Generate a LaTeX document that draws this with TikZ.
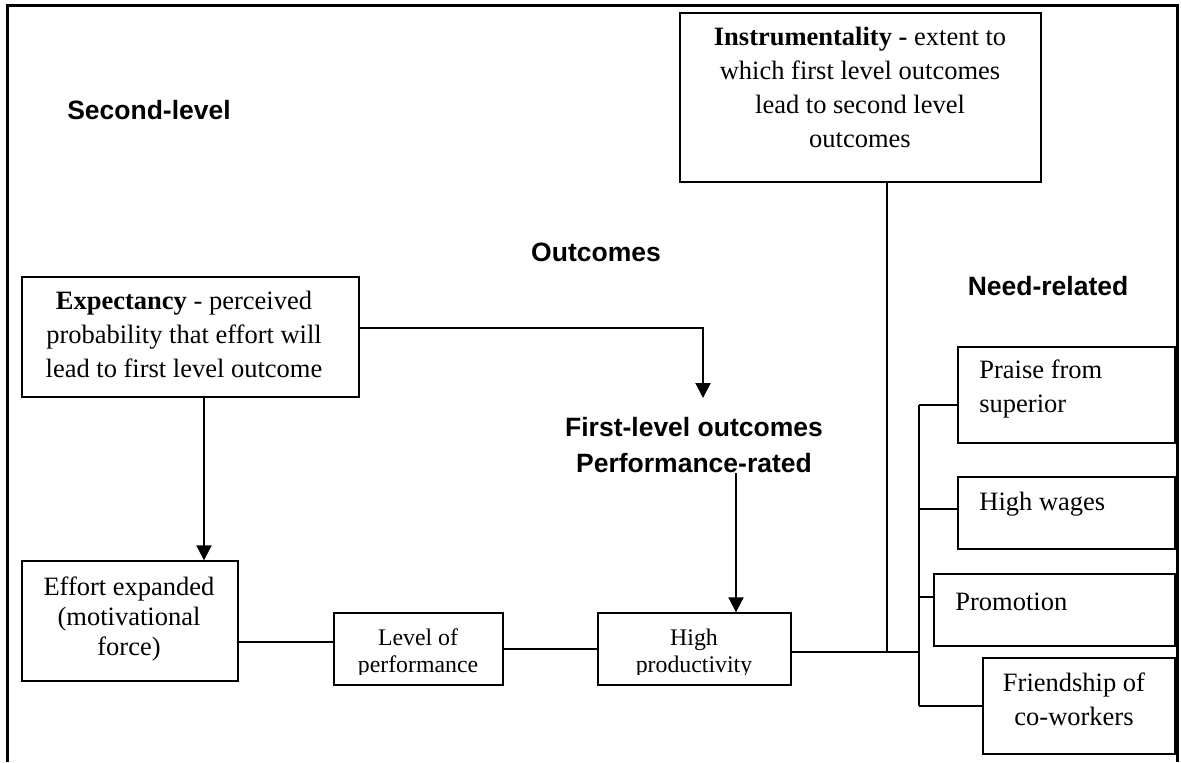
\documentclass[tikz,border=0pt]{standalone}
\usepackage{fontspec}
\setmainfont{Liberation Serif}
\setsansfont{Liberation Sans}
\usetikzlibrary{arrows.meta,fit}

\begin{document}
\begin{tikzpicture}[x=0.5pt,y=-0.5pt,
  box/.style={draw, line width=0.7pt, inner sep=0pt},
  body/.style={font=\fontsize{13.25}{17}\selectfont, align=center, inner sep=0pt},
  tight/.style={font=\fontsize{13.25}{15}\selectfont, align=center, inner sep=0pt},
  small/.style={font=\fontsize{11.9}{13.5}\selectfont, align=center, inner sep=0pt},
  head/.style={font=\fontsize{13.25}{18}\sffamily\bfseries, align=center, inner sep=0pt},
  link/.style={line width=0.8pt},
  arr/.style={line width=1pt, -{Triangle[length=7.5pt,width=7.5pt]}},
  frame/.style={line width=1.5pt}]
\useasboundingbox (0,0) rectangle (1181,762);

% open frame (no bottom edge)
\draw[frame] (7,762) -- (7,5) -- (1177,5) -- (1177,762);

% headings
\node[head] (second) at (149,110) {Second-level};
\node[head] (outc) at (596,252) {Outcomes};
\node[head] (need) at (1048,286) {Need-related};
\node[head] (first) at (694,445) {First-level outcomes\\ Performance-rated};

% instrumentality
\node[box, fit={(680,13) (1041,182)}] (instr) {};
\node[body] (instrT) at (860,87) {\textbf{Instrumentality -} extent to\\ which first level outcomes\\ lead to second level\\ outcomes};

% expectancy
\node[box, fit={(22,277) (359,397)}] (expect) {};
\node[body] (expectT) at (184,334) {\textbf{Expectancy} - perceived\\ probability that effort will\\ lead to first level outcome};

% effort
\node[box, fit={(22,561) (238,681)}] (effort) {};
\node[tight] (effortT) at (129,619) {Effort expanded\\ (motivational\\ force)};

% level of performance
\node[box, fit={(334,613) (503,685)}] (level) {};
\begin{scope}
  \clip (334,613) rectangle (503,674);
  \node[small] (levelT) at (418,653) {Level of\\ performance};
\end{scope}

% high productivity
\node[box, fit={(598,613) (791,685)}] (high) {};
\begin{scope}
  \clip (598,613) rectangle (791,674);
  \node[small] (highT) at (694,653) {High\\ productivity};
\end{scope}

% second-level outcomes
\node[box, fit={(958,347) (1175,443)}] (praise) {};
\node[body, align=left, anchor=west] (praiseT) at (979,389) {Praise from\\ superior};
\node[box, fit={(958,477) (1175,549)}] (wages) {};
\node[body, anchor=west] (wagesT) at (979,504) {High wages};
\node[box, fit={(934,574) (1175,646)}] (promo) {};
\node[body, anchor=west] (promoT) at (955,602) {Promotion};
\node[box, fit={(983,658) (1175,754)}] (friend) {};
\node[body] (friendT) at (1074,699) {Friendship of\\ co-workers};

% helper coordinates for connector routes
\coordinate (colA) at (204,0);
\coordinate (rowA) at (0,328);
\coordinate (tipA) at (703,398);
\coordinate (colB) at (736,0);
\coordinate (rowB) at (0,642);
\coordinate (colC) at (887,0);
\coordinate (jn) at (919,652);
\coordinate (bPr) at (919,405);
\coordinate (bHw) at (919,509);
\coordinate (bPm) at (919,597);
\coordinate (bFr) at (919,706);

% arrows
\draw[arr] (colA |- expect.south) -- (colA |- effort.north);
\draw[arr] (expect.east |- rowA) -| (tipA);
\draw[arr] (colB |- first.south) -- (colB |- high.north);

% chain of first-level links
\draw[link] (effort.east |- rowB) -- (level.west |- rowB);
\draw[link] (level.east) -- (high.west);
\draw[link] (high.east |- jn) -- (jn);
\draw[link] (colC |- instr.south) -- (colC |- jn);

% bracket to second-level outcomes
\draw[link] (bPr) -- (bFr);
\draw[link] (bPr) -- (praise.west |- bPr);
\draw[link] (bHw) -- (wages.west |- bHw);
\draw[link] (bPm) -- (promo.west |- bPm);
\draw[link] (bFr) -- (friend.west |- bFr);
\end{tikzpicture}
\end{document}
